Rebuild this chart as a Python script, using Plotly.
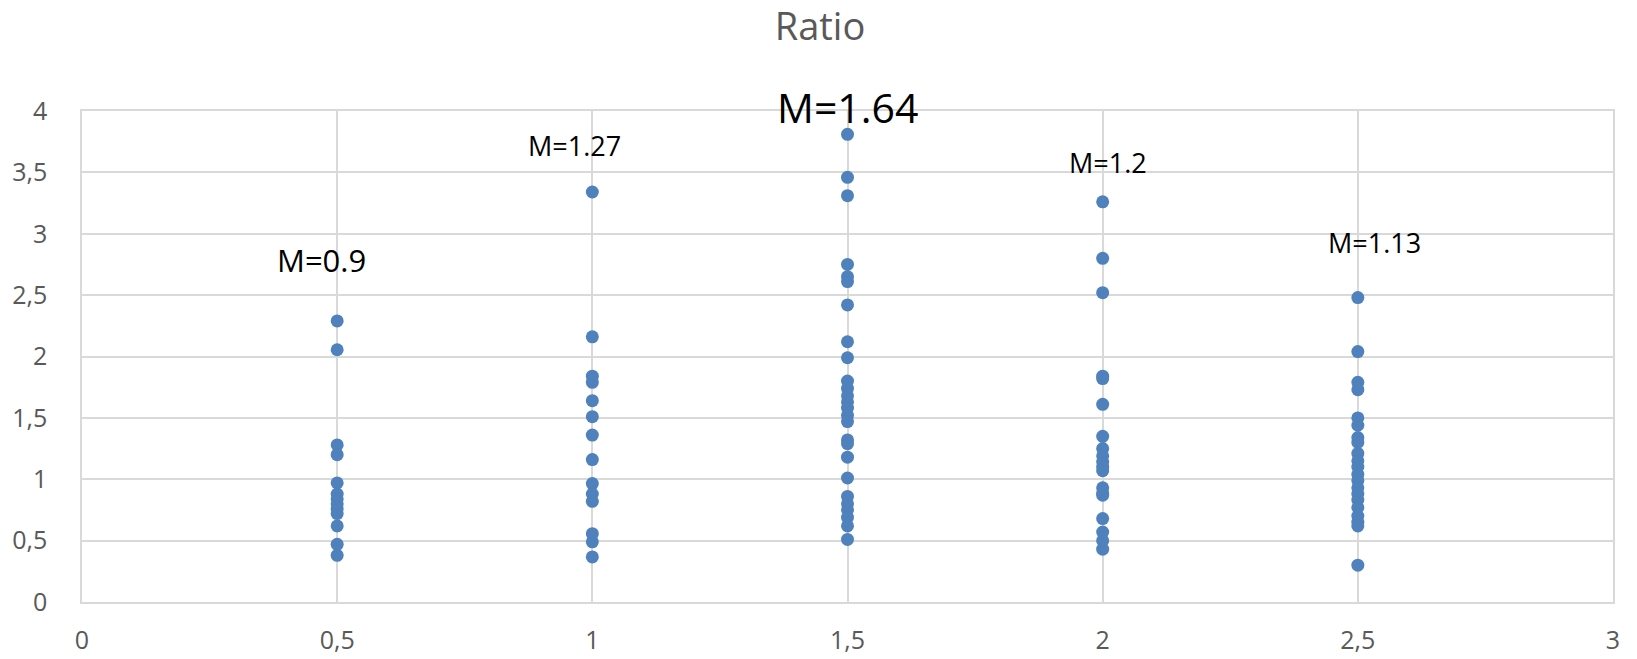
import plotly.graph_objects as go

# Data (x groups and their ratio values)
x_groups = [0.5, 1.0, 1.5, 2.0, 2.5]
vals_05 = [2.29, 2.055, 1.28, 1.20, 0.97, 0.88, 0.84, 0.80, 0.76, 0.72, 0.62, 0.47, 0.38]
vals_10 = [3.34, 2.16, 1.84, 1.79, 1.64, 1.51, 1.36, 1.16, 0.965, 0.88, 0.82, 0.557, 0.49, 0.367]
vals_15 = [3.81, 3.46, 3.31, 2.75, 2.65, 2.61, 2.42, 2.12, 1.99, 1.80, 1.74, 1.68, 1.63, 1.58,
           1.52, 1.47, 1.32, 1.29, 1.18, 1.01, 0.86, 0.80, 0.75, 0.69, 0.62, 0.51]
vals_20 = [3.26, 2.80, 2.52, 1.84, 1.82, 1.61, 1.35, 1.25, 1.19, 1.14, 1.10, 1.07, 0.93, 0.89,
           0.87, 0.68, 0.57, 0.50, 0.43]
vals_25 = [2.48, 2.04, 1.79, 1.73, 1.50, 1.44, 1.34, 1.30, 1.21, 1.15, 1.10, 1.04, 0.99, 0.93,
           0.88, 0.83, 0.77, 0.70, 0.65, 0.62, 0.30]
all_vals = [vals_05, vals_10, vals_15, vals_20, vals_25]

# Mean labels
label_texts = ["M=0.9", "M=1.27", "M=1.64", "M=1.2", "M=1.13"]
label_x = [0.47, 0.966, 1.50, 2.011, 2.532]
label_y = [2.79, 3.72, 4.03, 3.58, 2.93]
label_sizes = [31, 27, 41, 27, 27]

x_ticks = [0, 0.5, 1, 1.5, 2, 2.5, 3]
x_ticktext = ["0", "0,5", "1", "1,5", "2", "2,5", "3"]
y_ticks = [0, 0.5, 1, 1.5, 2, 2.5, 3, 3.5, 4]
y_ticktext = ["0", "0,5", "1", "1,5", "2", "2,5", "3", "3,5", "4"]
Y_MAX = 4

xs, ys = [], []
for g, v in zip(x_groups, all_vals):
    xs += [g] * len(v)
    ys += v

fig = go.Figure()
fig.add_trace(go.Scatter(
    x=xs, y=ys, mode="markers",
    marker=dict(color="#4F81BD", size=13, line=dict(width=0)),
    cliponaxis=False, showlegend=False,
))

# annotations: y given in paper fraction of the value axis so labels above the top stay visible
for t, x, y, s in zip(label_texts, label_x, label_y, label_sizes):
    fig.add_annotation(x=x, y=y / Y_MAX, xref="x", yref="paper", text=t, showarrow=False,
                       xanchor="center", yanchor="middle",
                       font=dict(family="Open Sans", size=s, color="#000000"))

grid = "#D9D9D9"
tickfont = dict(family="Open Sans", size=25, color="#595959")
fig.update_layout(
    width=1637, height=659, autosize=False,
    margin=dict(l=82, r=24, t=111, b=57, autoexpand=False),
    paper_bgcolor="white", plot_bgcolor="white",
    title=dict(text="Ratio", x=820 / 1637, xanchor="center", xref="container",
               y=1 - 27 / 659, yanchor="middle", yref="container",
               font=dict(family="Open Sans", size=38, color="#595959")),
    xaxis=dict(range=[0, 3], tickvals=x_ticks, ticktext=x_ticktext, automargin=False,
               showgrid=True, gridcolor=grid, gridwidth=1.5,
               zeroline=False, showline=True, linecolor=grid, linewidth=1.5,
               mirror=True, ticks="", tickfont=tickfont, ticklabelstandoff=15),
    yaxis=dict(range=[0, Y_MAX], tickvals=y_ticks, ticktext=y_ticktext, automargin=False,
               showgrid=True, gridcolor=grid, gridwidth=1.5,
               zeroline=False, showline=True, linecolor=grid, linewidth=1.5,
               mirror=True, ticks="", tickfont=tickfont, ticklabelstandoff=28),
)

fig.write_html("out.html")
